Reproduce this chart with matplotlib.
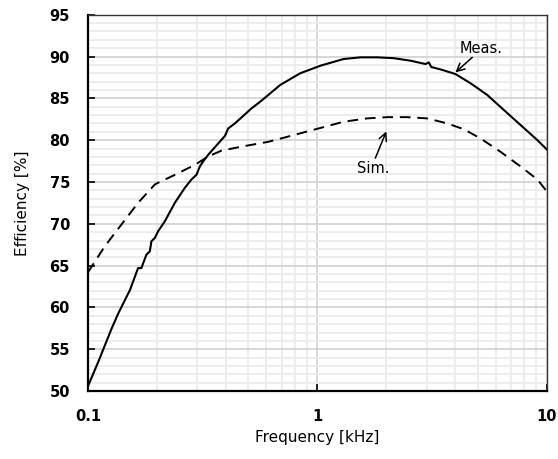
import matplotlib
matplotlib.use("Agg")
import matplotlib.pyplot as plt
from matplotlib.ticker import FixedLocator, LogLocator, MultipleLocator, NullFormatter

plt.rcParams['font.family'] = ['DejaVu Sans']

meas_f = [0.1, 0.1055, 0.1109, 0.1186, 0.1269, 0.1356, 0.1426, 0.1525, 0.1653, 0.1709, 0.1797,
          0.186, 0.189, 0.1956, 0.2021, 0.2163, 0.2391, 0.2644, 0.2826, 0.2971, 0.3074, 0.3177,
          0.3342, 0.3696, 0.3953, 0.4086, 0.437, 0.5166, 0.5638, 0.611, 0.689, 0.843, 1.031,
          1.302, 1.541, 1.823, 2.154, 2.547, 2.963, 3.062, 3.138, 3.504, 4.005, 4.658, 5.508,
          6.509, 7.70, 9.11, 10]
meas_e = [50.6, 52.1, 53.5, 55.5, 57.5, 59.3, 60.5, 62.1, 64.7, 64.7, 66.3,
          66.7, 67.9, 68.3, 69.1, 70.3, 72.5, 74.3, 75.3, 75.85, 76.85, 77.45,
          78.25, 79.6, 80.5, 81.4, 82.0, 83.8, 84.6, 85.4, 86.6, 88.0, 88.9,
          89.7, 89.9, 89.9, 89.8, 89.5, 89.1, 89.3, 88.75, 88.4, 87.9, 86.8, 85.4,
          83.6, 81.8, 80.0, 78.9]

sim_f = [0.1, 0.1183, 0.1398, 0.1653, 0.1956, 0.2021, 0.2391, 0.2924, 0.3342, 0.382, 0.4834,
         0.611, 0.788, 1.013, 1.302, 1.648, 2.016, 2.465, 3.013, 3.686, 4.355, 5.15, 6.297,
         7.70, 9.11, 10]
sim_e = [64.2, 67.3, 69.9, 72.5, 74.7, 74.9, 75.85, 77.05, 78.05, 78.75, 79.3,
         79.8, 80.6, 81.4, 82.2, 82.6, 82.75, 82.75, 82.6, 82.0, 81.3, 80.2, 78.6,
         76.85, 75.3, 73.9]

x_ticks = [0.1, 1, 10]
x_labels = ["0.1", "1", "10"]
y_ticks = [50, 55, 60, 65, 70, 75, 80, 85, 90, 95]

fig = plt.figure(figsize=(5.58, 4.59), dpi=100)
ax = fig.add_axes([0.1577, 0.148, 0.822, 0.820])

ax.set_xscale('log')
ax.set_xlim(0.1, 10)
ax.set_ylim(50, 95)

ax.plot(meas_f, meas_e, color='black', lw=1.5, zorder=3)
ax.plot(sim_f, sim_e, color='black', lw=1.4, linestyle=(0, (5.5, 3.5)), zorder=3)

ax.xaxis.set_major_locator(FixedLocator(x_ticks))
ax.set_xticklabels(x_labels)
ax.xaxis.set_minor_locator(LogLocator(base=10, subs=range(2, 10)))
ax.xaxis.set_minor_formatter(NullFormatter())
ax.yaxis.set_major_locator(FixedLocator(y_ticks))
ax.yaxis.set_minor_locator(MultipleLocator(1))

ax.grid(which='major', color='#d4d4d4', lw=1.3, zorder=0)
ax.grid(which='minor', color='#ececec', lw=1.3, zorder=0)
ax.set_axisbelow(True)

ax.tick_params(which='major', direction='in', length=5, width=1.2, color='black', pad=13,
               labelsize=10.5)
ax.tick_params(which='minor', length=0)
for lab in ax.get_xticklabels() + ax.get_yticklabels():
    lab.set_fontweight('bold')

for s in ['left', 'bottom']:
    ax.spines[s].set_linewidth(1.6)
    ax.spines[s].set_color('black')
for s in ['top', 'right']:
    ax.spines[s].set_linewidth(1.0)
    ax.spines[s].set_color('#333333')

ax.set_xlabel('Frequency [kHz]', fontsize=11, labelpad=4.5)
ax.set_ylabel('Efficiency [%]', fontsize=11, labelpad=14)

arrow = dict(arrowstyle='->', color='black', lw=1.1, shrinkA=0, shrinkB=0,
             mutation_scale=14)
ax.annotate('', xy=(4.0, 88.1), xytext=(4.74, 89.9), arrowprops=arrow)
ax.text(5.2, 91.0, 'Meas.', ha='center', va='center', fontsize=10.5)
ax.annotate('', xy=(2.0, 81.05), xytext=(1.79, 77.85), arrowprops=arrow)
ax.text(1.76, 76.6, 'Sim.', ha='center', va='center', fontsize=10.5)

fig.savefig('out.png', dpi=100)
